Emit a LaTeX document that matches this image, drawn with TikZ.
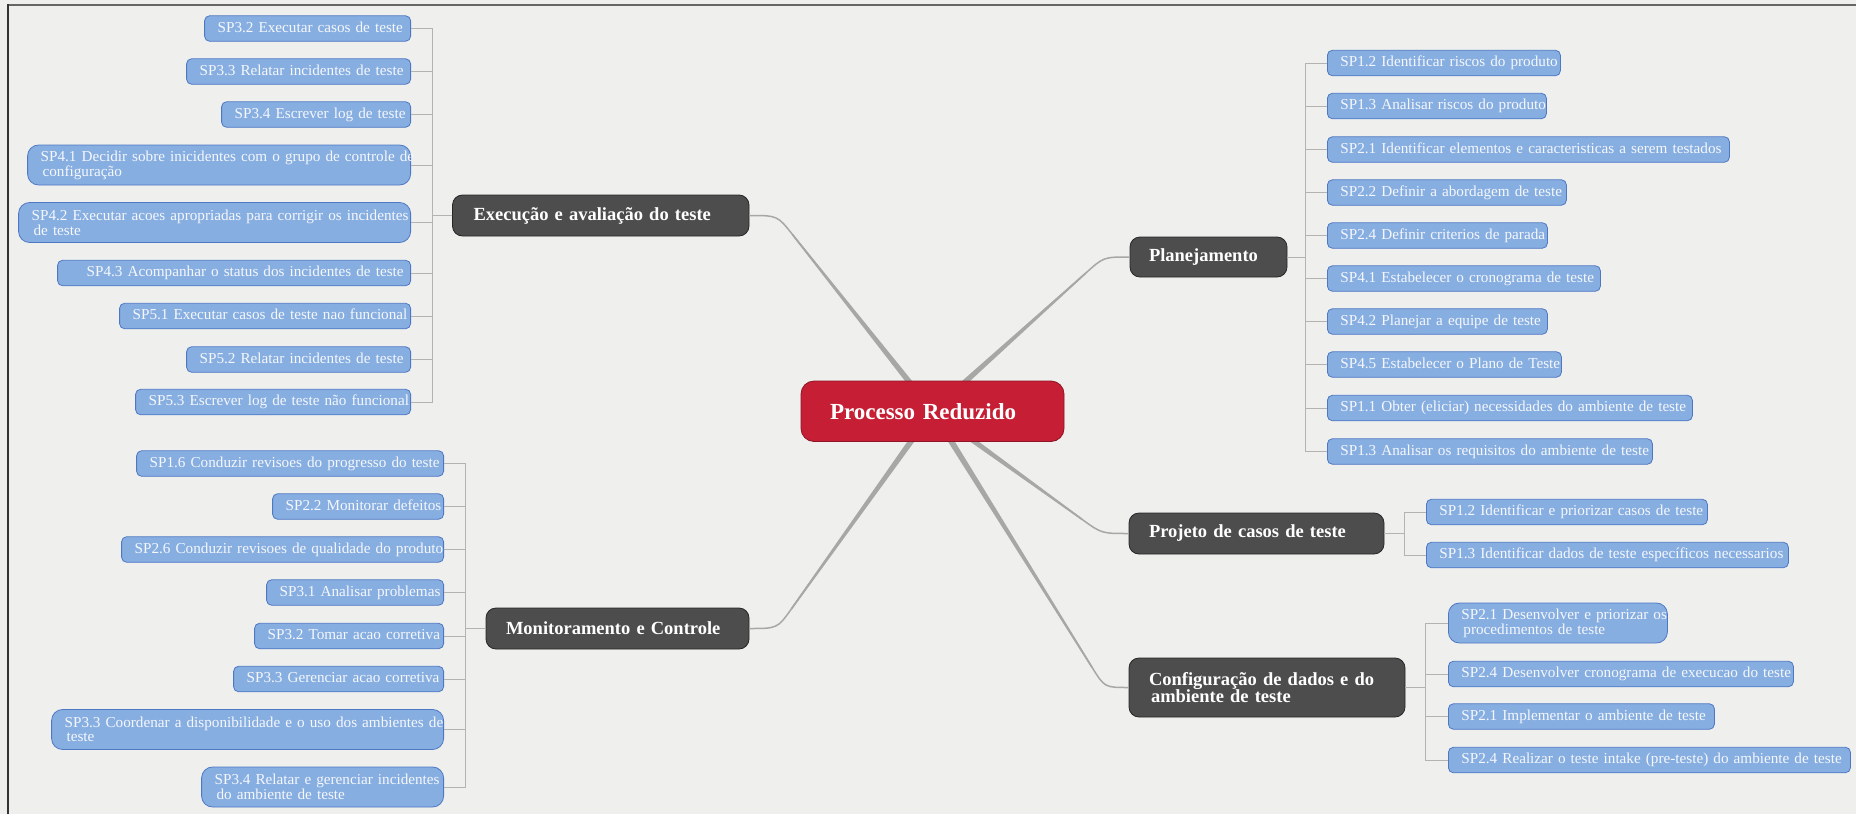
\documentclass[tikz,border=0pt]{standalone}
\usepackage{fontspec}
\setmainfont{Liberation Serif}
\usetikzlibrary{calc}

\definecolor{paper}{HTML}{EFEFED}
\definecolor{rootfill}{HTML}{C61F35}
\definecolor{rootline}{HTML}{8E1424}
\definecolor{branchfill}{HTML}{4D4D4D}
\definecolor{branchline}{HTML}{262626}
\definecolor{kidfill}{HTML}{87AEE1}
\definecolor{kidline}{HTML}{4E78C4}
\definecolor{kidtext}{HTML}{F5F7FB}
\definecolor{trunk}{HTML}{A7A7A5}
\definecolor{twig}{HTML}{B3B3B1}

% tapered trunk from the root centre to a branch: #1 start, #2 bend, #3 end
\newcommand{\trunkline}[3]{%
  \coordinate (tA) at ($(#2)!24pt!(#1)$);
  \fill[trunk] ($(#1)!3.2pt!90:(#2)$) -- ($(tA)!0.8pt!-90:(#1)$)
    -- ($(tA)!0.8pt!90:(#1)$) -- ($(#1)!3.2pt!-90:(#2)$) -- cycle;
  \draw[trunkend] (#1) -- (tA) .. controls (#2) .. (#3);}

\begin{document}
\begin{tikzpicture}[x=1pt,y=-1pt,
  root/.style={draw=rootline, line width=0.8pt, fill=rootfill, rounded corners=13pt,
    text=white, font=\fontsize{23}{26}\selectfont\bfseries, inner ysep=0pt,
    align=left},
  branch/.style={draw=branchline, line width=0.8pt, fill=branchfill, rounded corners=10pt,
    text=white, font=\fontsize{18.5}{17}\selectfont\bfseries, inner ysep=0pt,
    inner xsep=20pt, align=left},
  kid/.style={draw=kidline, line width=0.8pt, fill=kidfill, rounded corners=5pt,
    text=kidtext, font=\fontsize{15.2}{14}\selectfont, inner ysep=0pt,
    inner xsep=13pt, minimum height=25.5pt, text height=10.5pt, text depth=3.5pt,
    align=left},
  kidtwo/.style={draw=kidline, line width=0.8pt, fill=kidfill, rounded corners=11pt,
    text=kidtext, font=\fontsize{15.2}{13.5}\selectfont, inner ysep=0pt,
    inner xsep=13pt, minimum height=40pt, align=left},
  lk/.style={kid, anchor=east},
  rk/.style={kid, anchor=west},
  lk2/.style={kidtwo, anchor=east},
  rk2/.style={kidtwo, anchor=west},
  twigline/.style={draw=twig, line width=0.9pt},
  trunkend/.style={draw=trunk, line width=1.5pt},
]
\useasboundingbox (0,0) rectangle (1856,814);
\fill[paper] (0,0) rectangle (1856,814);
\draw[color=black!60, line width=1.6pt] (8,4.8) -- (1856,4.8);
\draw[color=black!80, line width=1.4pt] (8,4) -- (8,814);

% root position (its centre is where the trunks start)
\coordinate (rc) at (932.5,411.25);

% branch nodes
\node[branch, minimum width=296.5pt, minimum height=41pt, inner xsep=21pt, text width=254.5pt]
  (exe) at (600.75,215.5) {Execução e avaliação do teste};
\node[branch, minimum width=157pt, minimum height=40pt, inner xsep=19pt, text width=119pt]
  (pla) at (1208.5,257) {Planejamento};
\node[branch, minimum width=263pt, minimum height=41pt, text width=223pt]
  (mon) at (617.5,628.5) {Monitoramento e Controle};
\node[branch, minimum width=255pt, minimum height=41pt, text width=215pt]
  (pro) at (1256.5,533.5) {Projeto de casos de teste};
\node[branch, minimum width=276pt, minimum height=59pt, text width=236pt]
  (cfg) at (1267,687.5) {Configuração de dados e do\\\hspace{2pt}ambiente de teste};

% bend points of the trunks
\coordinate (kexe) at ($(exe.east)+(28,0)$);
\coordinate (kmon) at ($(mon.east)+(28,0)$);
\coordinate (kpla) at ($(pla.west)+(-26,0)$);
\coordinate (kpro) at ($(pro.west)+(-27,0)$);
\coordinate (kcfg) at ($(cfg.west)+(-24,0)$);

% trunks
\trunkline{rc}{kexe}{exe.east}
\trunkline{rc}{kmon}{mon.east}
\trunkline{rc}{kpla}{pla.west}
\trunkline{rc}{kpro}{pro.west}
\trunkline{rc}{kcfg}{cfg.west}

% root node
\node[root, minimum width=263pt, minimum height=60.5pt, inner xsep=29pt, text width=205pt]
  (root) at (rc) {Processo Reduzido};

% Execução e avaliação do teste
\node[lk, text width=180pt] (e1) at (411,28.5) {\mbox{SP3.2 Executar casos de teste}};
\node[lk, text width=198pt] (e2) at (411,71.5) {\mbox{SP3.3 Relatar incidentes de teste}};
\node[lk, text width=163pt] (e3) at (411,114.5) {\mbox{SP3.4 Escrever log de teste}};
\node[lk2, text width=357pt] (e4) at (411,165)
  {\mbox{SP4.1 Decidir sobre inicidentes com o grupo de controle de}\\\hspace{2pt}configuração};
\node[lk2, text width=366pt] (e5) at (411,222.5)
  {\mbox{SP4.2 Executar acoes apropriadas para corrigir os incidentes}\\\hspace{2pt}de teste};
\node[lk, text width=327pt] (e6) at (411,273) {\mbox{\hspace{16pt}SP4.3 Acompanhar o status dos incidentes de teste}};
\node[lk, text width=265pt] (e7) at (411,316) {\mbox{SP5.1 Executar casos de teste nao funcional}};
\node[lk, text width=198pt] (e8) at (411,359.5) {\mbox{SP5.2 Relatar incidentes de teste}};
\node[lk, text width=249pt] (e9) at (411,402) {\mbox{SP5.3 Escrever log de teste não funcional}};
\foreach \c in {e1,e2,e3,e4,e5,e6,e7,e8,e9}
  \draw[twigline] (exe.west) -- ++(-19.5,0) |- (\c.east);

% Monitoramento e Controle
\node[lk, text width=281pt] (m1) at (444,463.5) {\mbox{SP1.6 Conduzir revisoes do progresso do teste}};
\node[lk, text width=145pt] (m2) at (444,506.5) {\mbox{SP2.2 Monitorar defeitos}};
\node[lk, text width=296pt] (m3) at (444,549.5) {\mbox{SP2.6 Conduzir revisoes de qualidade do produto}};
\node[lk, text width=151pt] (m4) at (444,592.5) {\mbox{SP3.1 Analisar problemas}};
\node[lk, text width=163pt] (m5) at (444,636) {\mbox{SP3.2 Tomar acao corretiva}};
\node[lk, text width=184pt] (m6) at (444,679) {\mbox{SP3.3 Gerenciar acao corretiva}};
\node[lk2, text width=366pt] (m7) at (444,729.5)
  {\mbox{SP3.3 Coordenar a disponibilidade e o uso dos ambientes de}\\\hspace{2pt}teste};
\node[lk2, text width=216pt] (m8) at (444,787)
  {\mbox{SP3.4 Relatar e gerenciar incidentes}\\\hspace{2pt}do ambiente de teste};
\foreach \c in {m1,m2,m3,m4,m5,m6,m7,m8}
  \draw[twigline] (mon.west) -- ++(-20,0) |- (\c.east);

% Planejamento
\node[rk, text width=207pt] (p1) at (1327,63) {\mbox{SP1.2 Identificar riscos do produto}};
\node[rk, text width=193pt] (p2) at (1327,106) {\mbox{SP1.3 Analisar riscos do produto}};
\node[rk, text width=376pt] (p3) at (1327,149.5) {\mbox{SP2.1 Identificar elementos e caracteristicas a serem testados}};
\node[rk, text width=213pt] (p4) at (1327,192.5) {\mbox{SP2.2 Definir a abordagem de teste}};
\node[rk, text width=194pt] (p5) at (1327,235.5) {\mbox{SP2.4 Definir criterios de parada}};
\node[rk, text width=247pt] (p6) at (1327,278.5) {\mbox{SP4.1 Estabelecer o cronograma de teste}};
\node[rk, text width=194pt] (p7) at (1327,321.5) {\mbox{SP4.2 Planejar a equipe de teste}};
\node[rk, text width=208pt] (p8) at (1327,364.5) {\mbox{SP4.5 Estabelecer o Plano de Teste}};
\node[rk, text width=339pt] (p9) at (1327,408) {\mbox{SP1.1 Obter (eliciar) necessidades do ambiente de teste}};
\node[rk, text width=299pt] (p10) at (1327,451.5) {\mbox{SP1.3 Analisar os requisitos do ambiente de teste}};
\foreach \c in {p1,p2,p3,p4,p5,p6,p7,p8,p9,p10}
  \draw[twigline] (pla.east) -- ++(17.6,0) |- (\c.west);

% Projeto de casos de teste
\node[rk, text width=255pt] (j1) at (1426,512) {\mbox{SP1.2 Identificar e priorizar casos de teste}};
\node[rk, text width=336pt] (j2) at (1426,555) {\mbox{SP1.3 Identificar dados de teste específicos necessarios}};
\foreach \c in {j1,j2}
  \draw[twigline] (pro.east) -- ++(20,0) |- (\c.west);

% Configuração de dados e do ambiente de teste
\node[rk2, text width=193pt] (c1) at (1448,623)
  {\mbox{SP2.1 Desenvolver e priorizar os}\\\hspace{2pt}procedimentos de teste};
\node[rk, text width=319pt] (c2) at (1448,674) {\mbox{SP2.4 Desenvolver cronograma de execucao do teste}};
\node[rk, text width=240pt] (c3) at (1448,716.5) {\mbox{SP2.1 Implementar o ambiente de teste}};
\node[rk, text width=376pt] (c4) at (1448,760) {\mbox{SP2.4 Realizar o teste intake (pre-teste) do ambiente de teste}};
\foreach \c in {c1,c2,c3,c4}
  \draw[twigline] (cfg.east) -- ++(20.5,0) |- (\c.west);
\end{tikzpicture}
\end{document}
